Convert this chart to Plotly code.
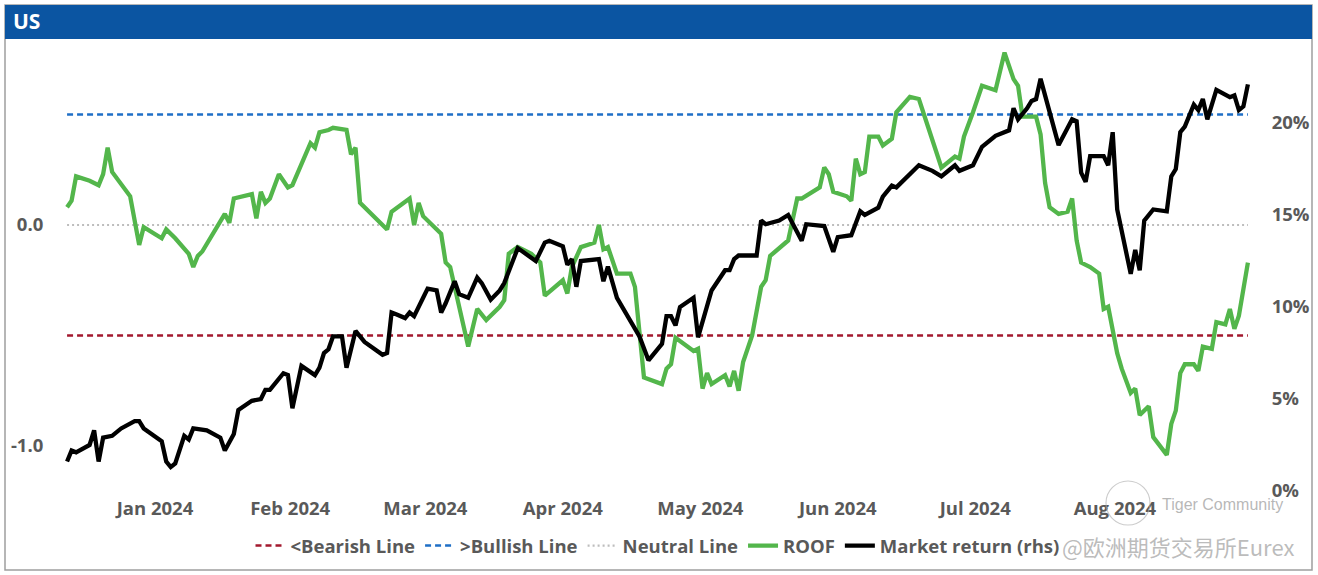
import pandas as pd
import plotly.graph_objects as go

# ---------------- data ----------------
BASE = pd.Timestamp("2024-01-01")

# day offsets from 2024-01-01 and ROOF indicator values (left axis)
roof_day = [-4, -3, -2, 1, 3, 4, 5, 6, 10, 12, 13, 17, 18, 20, 23, 24, 25, 26,
            31, 32, 33, 37, 38, 39, 40, 41, 43, 45, 46, 48, 50, 51, 52, 54, 55,
            58, 59, 60, 61, 67, 68, 72, 73, 74, 75, 79, 80, 81, 85, 87, 89, 92,
            93, 94, 96, 99, 101, 102, 106, 107, 108, 110, 113, 114, 115, 116,
            118, 121, 122, 124, 128, 129, 130, 131, 135, 136, 137, 138, 139,
            142, 143, 144, 145, 146, 148, 150, 151, 152, 156, 158, 159, 163,
            164, 165, 166, 169, 170, 171, 172, 173, 174, 176, 177, 179, 180,
            183, 185, 190, 193, 194, 195, 197, 199, 202, 204, 206, 207, 208,
            211, 212, 213, 214, 216, 218, 219, 220, 221, 223, 225, 226, 227,
            229, 230, 232, 233, 234, 236, 237, 240, 241, 242, 243, 244, 246,
            247, 248, 250, 251, 253, 254, 255, 256, 258]
roof_val = [0.08, 0.11, 0.22, 0.20, 0.18, 0.23, 0.35, 0.24, 0.13, -0.09, -0.01,
            -0.06, -0.02, -0.06, -0.13, -0.19, -0.14, -0.12,
            0.05, 0.01, 0.12, 0.14, 0.03, 0.15, 0.10, 0.12, 0.23, 0.17, 0.18,
            0.28, 0.37, 0.35, 0.42, 0.43, 0.44,
            0.43, 0.32, 0.35, 0.10, -0.02, 0.06, 0.12, 0.00, 0.10, 0.04, -0.04,
            -0.17, -0.19, -0.55, -0.38, -0.43, -0.37,
            -0.34, -0.13, -0.10, -0.13, -0.17, -0.32, -0.25, -0.31, -0.19, -0.10,
            -0.08, 0.00, -0.11, -0.10,
            -0.22, -0.22, -0.28, -0.69, -0.72, -0.65, -0.63, -0.51, -0.57, -0.56,
            -0.74, -0.67, -0.72,
            -0.68, -0.73, -0.66, -0.75, -0.62, -0.50, -0.28, -0.25, -0.14, -0.07,
            0.12, 0.12, 0.17,
            0.26, 0.23, 0.15, 0.13, 0.11, 0.30, 0.23, 0.24, 0.40, 0.40, 0.36,
            0.39, 0.51,
            0.58, 0.57, 0.26, 0.31, 0.30, 0.40, 0.51, 0.63, 0.61, 0.78, 0.66,
            0.63, 0.49,
            0.49, 0.41, 0.19, 0.08, 0.05, 0.06, 0.12, -0.07, -0.17, -0.19, -0.22,
            -0.38, -0.37,
            -0.58, -0.65, -0.76, -0.74, -0.86, -0.82, -0.96, -1.04, -0.90, -0.84,
            -0.67, -0.63, -0.63,
            -0.66, -0.55, -0.56, -0.44, -0.45, -0.38, -0.47, -0.41, -0.17]

# day offsets and cumulative market return in % (right axis)
mkt_day = [-4, -3, -2, 1, 2, 3, 4, 6, 8, 11, 12, 13, 17, 18, 19, 20, 22, 23, 24,
           27, 30, 31, 33, 34, 37, 39, 40, 41, 44, 45, 46, 48, 51, 52, 53, 54,
           55, 57, 58, 60, 62, 66, 67, 68, 69, 71, 72, 73, 75, 76, 78, 79, 80,
           82, 83, 85, 87, 88, 90, 92, 93, 95, 96, 100, 102, 103, 106, 107,
           108, 109, 110, 114, 115, 116, 118, 123, 125, 128, 129, 130, 131,
           132, 135, 136, 139, 142, 143, 144, 145, 149, 150, 151, 154, 156,
           159, 160, 164, 166, 167, 170, 172, 173, 176, 177, 179, 180, 185,
           188, 190, 192, 193, 194, 197, 199, 202, 205, 206, 207, 209, 210,
           211, 212, 214, 216, 219, 220, 221, 222, 223, 226, 227, 228, 229,
           232, 233, 234, 235, 237, 240, 241, 242, 243, 244, 246, 247, 248,
           249, 251, 254, 255, 256, 257, 258]
mkt_ret = [1.6, 2.2, 2.1, 2.5, 3.3, 1.6, 2.9, 3.0, 3.4, 3.8, 3.8, 3.4, 2.7, 1.6,
           1.3, 1.5, 3.0, 2.8, 3.4,
           3.3, 2.9, 2.2, 3.1, 4.4, 4.9, 5.0, 5.5, 5.5, 6.4, 6.3, 4.5, 6.8, 6.3,
           6.7, 7.5, 7.7,
           8.4, 8.4, 6.7, 8.7, 8.1, 7.4, 7.5, 9.7, 9.6, 9.4, 9.7, 9.5, 10.5,
           11.0, 10.9, 9.7, 10.2,
           11.4, 10.7, 10.5, 11.6, 11.3, 10.4, 10.9, 11.3, 12.6, 13.2, 12.5,
           13.5, 13.6, 13.3, 12.3,
           12.6, 11.1, 12.5, 12.6, 11.4, 12.2, 10.5, 8.4, 7.1, 8.0, 9.5, 9.5,
           9.0,
           10.0, 10.5, 8.35, 10.9, 12.0, 12.0, 12.6, 12.8, 12.8, 14.7, 14.5,
           14.7, 15.0,
           13.6, 14.5, 14.4, 13.0, 13.8, 13.9, 15.2, 15.0, 15.4, 16.0, 16.6,
           16.5, 17.7,
           17.4, 17.1, 17.5, 17.7, 17.4, 17.7, 18.7, 19.3, 19.6, 20.8, 20.2,
           20.8, 21.2,
           21.3, 22.4, 20.6, 18.8, 20.2, 20.1, 17.3, 16.8, 18.2, 18.2, 17.7,
           19.5, 15.3,
           11.8, 13.1, 12.0, 14.7, 15.3, 15.2, 17.1, 17.5, 19.5, 19.8, 21.0,
           20.7, 21.3,
           20.2, 21.8, 21.4, 21.5, 20.7, 20.9, 22.1]

bearish_level = -0.5
bullish_level = 0.5
neutral_level = 0.0

month_labels = ["Jan 2024", "Feb 2024", "Mar 2024", "Apr 2024",
                "May 2024", "Jun 2024", "Jul 2024", "Aug 2024"]
month_mid_day = [15.5, 45.5, 75.5, 106, 136.5, 167, 197.5, 228.5]

left_tick_vals = [-1.0, 0.0]
left_tick_text = ["-1.0", "0.0"]
right_tick_vals = [0, 5, 10, 15, 20]
right_tick_text = ["0%", "5%", "10%", "15%", "20%"]

# ---------------- build ----------------
def to_dates(days):
    return [BASE + pd.Timedelta(days=float(d)) for d in days]

roof_dates = to_dates(roof_day)
mkt_dates = to_dates(mkt_day)
month_ticks = to_dates(month_mid_day)
span = [roof_dates[0], roof_dates[-1]]

W, H = 1318, 575
ML, MR, MT, MB = 65, 68, 45, 84
PW, PH = W - ML - MR, H - MT - MB


def px_x(px):
    return (px - ML) / PW


def px_y(py):
    return (H - MB - py) / PH


TXT = "#595959"
FONT = "Open Sans"
FS = 18.5

fig = go.Figure()

fig.add_trace(go.Scatter(x=span, y=[bearish_level] * 2, mode="lines",
                         name="<Bearish Line",
                         line=dict(color="#A3182E", width=2.6, dash="6px,4px")))
fig.add_trace(go.Scatter(x=span, y=[bullish_level] * 2, mode="lines",
                         name=">Bullish Line",
                         line=dict(color="#1F6FC6", width=2.6, dash="6px,4px")))
fig.add_trace(go.Scatter(x=span, y=[neutral_level] * 2, mode="lines",
                         name="Neutral Line",
                         line=dict(color="#BDBDBD", width=2.2, dash="2px,3px")))
fig.add_trace(go.Scatter(x=roof_dates, y=roof_val, mode="lines", name="ROOF",
                         line=dict(color="#53B64B", width=4.3)))
fig.add_trace(go.Scatter(x=mkt_dates, y=mkt_ret, mode="lines",
                         name="Market return (rhs)", yaxis="y2",
                         line=dict(color="#000000", width=4.3)))

x_range = [BASE + pd.Timedelta(days=(ML - 85.1) / 4.507),
           BASE + pd.Timedelta(days=(W - MR - 85.1) / 4.507)]

tick_font = dict(family=FONT, size=FS, color=TXT, weight="bold")

fig.update_layout(
    width=W, height=H, autosize=False,
    margin=dict(l=ML, r=MR, t=MT, b=MB, pad=0, autoexpand=False),
    paper_bgcolor="white", plot_bgcolor="white",
    font=dict(family=FONT, size=FS, color=TXT, weight="bold"),
    showlegend=True,
    legend=dict(orientation="h", x=0.5, xanchor="center",
                y=px_y(546), yanchor="middle",
                font=dict(family=FONT, size=FS, color=TXT, weight="bold"),
                itemwidth=30, traceorder="normal",
                bgcolor="rgba(0,0,0,0)"),
    xaxis=dict(range=x_range, showgrid=False, zeroline=False, showline=False,
               tickmode="array", tickvals=month_ticks, ticktext=month_labels,
               ticks="outside", ticklen=1, tickcolor="rgba(0,0,0,0)",
               tickfont=tick_font, automargin=False),
    yaxis=dict(range=[(225 - 491) / 221, (225 - 45) / 221],
               showgrid=False, zeroline=False, showline=False,
               tickmode="array", tickvals=left_tick_vals, ticktext=left_tick_text,
               ticks="outside", ticklen=17, tickcolor="rgba(0,0,0,0)",
               tickfont=tick_font, automargin=False),
    yaxis2=dict(range=[0, (491 - 45) / 18.4], overlaying="y", side="right",
                showgrid=False, zeroline=False, showline=False,
                tickmode="array", tickvals=right_tick_vals,
                ticktext=right_tick_text,
                ticks="outside", ticklen=17, tickcolor="rgba(0,0,0,0)",
                tickfont=tick_font, automargin=False),
)

# frame and title bar
fig.add_shape(type="rect", xref="paper", yref="paper",
              x0=px_x(5), x1=px_x(1312), y0=px_y(570), y1=px_y(5),
              line=dict(color="#9E9E9E", width=1.5), fillcolor="rgba(0,0,0,0)",
              layer="below")
fig.add_shape(type="rect", xref="paper", yref="paper",
              x0=px_x(5), x1=px_x(1312), y0=px_y(39), y1=px_y(5),
              line=dict(width=0), fillcolor="#0B55A2", layer="below")
fig.add_annotation(text="US", xref="paper", yref="paper",
                   x=px_x(11), y=px_y(21), xanchor="left", yanchor="middle",
                   showarrow=False,
                   font=dict(family=FONT, size=21, color="white", weight="bold"))

# watermark
fig.add_shape(type="circle", xref="paper", yref="paper",
              x0=px_x(1106), x1=px_x(1150), y0=px_y(525), y1=px_y(481),
              line=dict(color="rgba(170,170,170,0.6)", width=1.2))
fig.add_annotation(text="Tiger Community", xref="paper", yref="paper",
                   x=px_x(1222), y=px_y(504), xanchor="center", yanchor="middle",
                   showarrow=False,
                   font=dict(family="Liberation Sans", size=16,
                             color="rgba(160,160,160,0.75)", weight="normal"))
fig.add_annotation(text="@欧洲期货交易所Eurex", xref="paper", yref="paper",
                   x=px_x(1178), y=px_y(546), xanchor="center", yanchor="middle",
                   showarrow=False,
                   font=dict(family="Noto Sans CJK SC", size=22,
                             color="rgba(170,170,170,0.8)", weight="normal"))

fig.write_html("out.html",
               config={"displayModeBar": False},
               post_script="document.body.style.margin='0';"
                           "document.body.style.overflow='hidden';")
